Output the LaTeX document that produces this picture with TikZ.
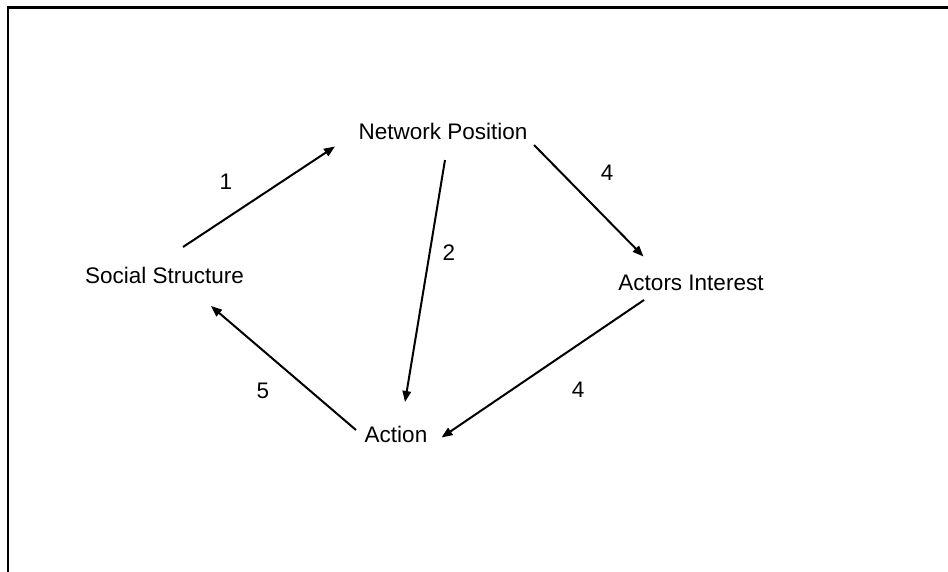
\documentclass[tikz,border=0pt]{standalone}
\usepackage{fontspec}
\setmainfont{Liberation Sans}
\usetikzlibrary{arrows.meta}
\begin{document}
\begin{tikzpicture}[x=1pt,y=-1pt,
  concept/.style={inner sep=0pt,font=\fontsize{22.5}{27}\selectfont},
  num/.style={inner sep=0pt,font=\fontsize{22.5}{27}\selectfont},
  link/.style={line width=2pt,-{Triangle[length=11pt,width=8.5pt]}},
  frame/.style={line width=2.2pt}]
\useasboundingbox (0,0) rectangle (948,571);
% outer frame (continues past the right and bottom edges)
\draw[frame] (8,580) -- (8,7.5) -- (960,7.5);

% concepts
\node[concept] (np) at (443,131) {Network Position};
\node[concept] (ss) at (164.5,275) {Social Structure};
\node[concept] (ai) at (691,283) {Actors Interest};
\node[concept] (ac) at (396,434) {Action};

% arrow end points around the concepts
\coordinate (ss-out) at (183,247);
\coordinate (np-in)  at (335,146.5);
\coordinate (np-out2) at (445,160);
\coordinate (ac-in2) at (405,402);
\coordinate (np-out4) at (534,145);
\coordinate (ai-in)  at (643.5,256.5);
\coordinate (ai-out) at (644,300);
\coordinate (ac-in4) at (441.5,437.5);
\coordinate (ac-out) at (356,430);
\coordinate (ss-in)  at (211,306);

% connectors
\draw[link] (ss-out) -- (np-in);
\draw[link] (np-out2) -- (ac-in2);
\draw[link] (np-out4) -- (ai-in);
\draw[link] (ai-out) -- (ac-in4);
\draw[link] (ac-out) -- (ss-in);

% connector labels
\node[num] (l1) at (226,182) {1};
\node[num] (l2) at (449,253) {2};
\node[num] (l4a) at (607,173) {4};
\node[num] (l4b) at (578,390) {4};
\node[num] (l5) at (263,391) {5};
\end{tikzpicture}
\end{document}
